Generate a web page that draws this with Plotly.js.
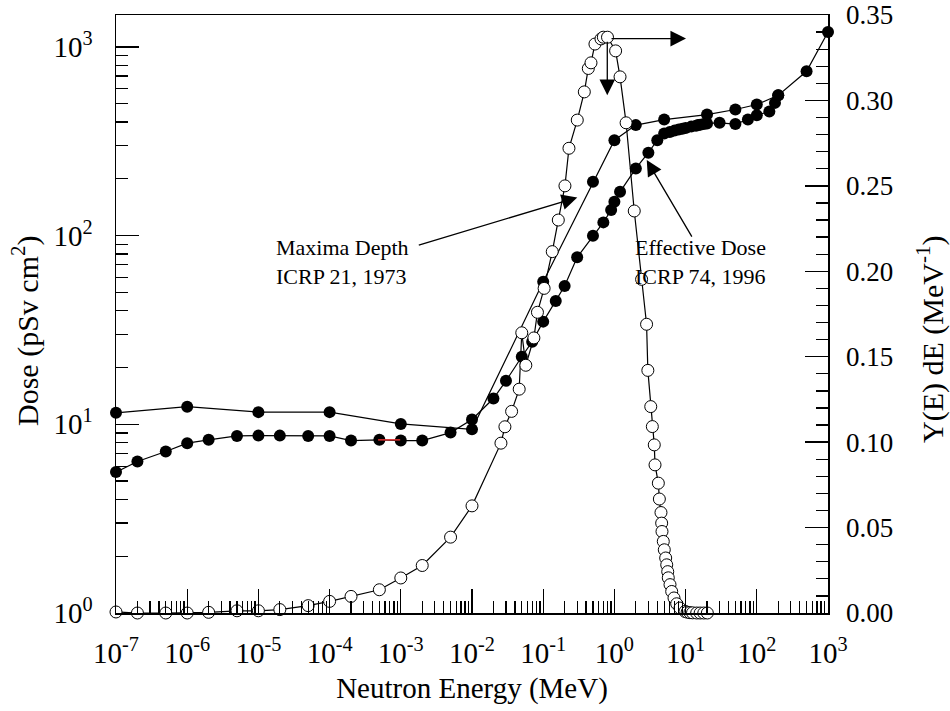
<!DOCTYPE html>
<html>
<head>
<meta charset="utf-8">
<script src="https://cdn.plot.ly/plotly-3.0.1.min.js"></script>
<style>html,body{margin:0;padding:0;background:#fff;}#chart{width:950px;height:711px;}</style>
</head>
<body>
<div id="chart"></div>
<script>
// ---- Maxima Depth, ICRP 21 (1973) : filled circles, left axis (pSv cm^2)
var maximaEnergy = [1e-7, 1e-6, 1e-5, 1e-4, 1e-3, 1e-2, 0.1, 0.5, 1.0, 2.0, 5.0, 20, 50, 100, 200];
var maximaDose   = [11.5, 12.4, 11.6, 11.6, 10.05, 9.4, 56.9, 193, 320, 385, 412, 438, 466, 495, 554];

// ---- Effective Dose, ICRP 74 (1996) : filled circles, left axis (pSv cm^2)
var effEnergy = [1e-7, 2e-7, 5e-7, 1e-6, 2e-6, 5e-6, 1e-5, 2e-5, 5e-5, 1e-4, 2e-4, 5e-4, 1e-3, 2e-3, 5e-3, 1e-2,
                 0.02, 0.03, 0.05, 0.07, 0.1, 0.15, 0.2, 0.3, 0.5, 0.7, 0.9, 1.0, 1.2, 2.0, 3.0, 4.0, 5.0, 6.0, 7.0, 8.0,
                 9.0, 10, 12, 14, 15, 16, 18, 20, 30, 50, 75, 100, 150, 180, 200, 500, 1000];
var effDose   = [5.58, 6.35, 7.17, 7.94, 8.27, 8.68, 8.71, 8.71, 8.68, 8.68, 8.2, 8.27, 8.2, 8.2, 9.04, 10.6,
                 13.7, 17.0, 22.8, 27.4, 35.0, 45.0, 54.0, 76.7, 99.8, 117.5, 136.5, 151, 170.6, 227, 275, 320, 348, 354, 360, 365,
                 368, 372, 378, 382, 385, 387, 390, 393, 396, 390, 412, 434, 455, 505, 554, 743, 1200];

// ---- Spectrum Y(E) dE : open circles, right axis (MeV^-1)
var specEnergy = [1e-7, 2e-7, 5e-7, 1e-6, 2e-6, 5e-6, 1e-5, 2e-5, 5e-5, 1e-4, 2e-4, 5e-4, 1e-3, 2e-3, 5e-3, 1e-2,
                  0.0255, 0.029, 0.036, 0.046, 0.050, 0.057, 0.074, 0.083, 0.103, 0.134, 0.163, 0.202, 0.23, 0.301,
                  0.378, 0.430, 0.469, 0.533, 0.648, 0.699, 0.80, 1.04, 1.2, 1.46, 1.9, 2.41, 2.83, 2.95,
                  3.24, 3.41, 3.63, 3.72, 4.14, 4.28, 4.51, 4.61, 4.66, 4.86, 5.02, 5.25, 5.43, 5.61, 5.71,
                  6.04, 6.38, 6.87, 7.50, 8.34, 9.81, 10.5, 11.5, 12.5, 14.3, 16, 18, 20.2];
var specYield  = [0.0006, 0.0, 0.0, 0.0, 0.0004, 0.0013, 0.0013, 0.002, 0.0043, 0.0068, 0.0097, 0.0136, 0.0205, 0.0278, 0.0444, 0.0627,
                  0.0994, 0.109, 0.118, 0.131, 0.164, 0.145, 0.161, 0.176, 0.190, 0.2115, 0.230, 0.250, 0.272, 0.2885,
                  0.305, 0.3187, 0.322, 0.333, 0.336, 0.337, 0.337, 0.329, 0.3138, 0.2869, 0.2353, 0.1953, 0.169, 0.142,
                  0.1208, 0.1091, 0.0984, 0.0867, 0.0760, 0.0667, 0.0588, 0.0526, 0.0477, 0.0419, 0.0370, 0.0322, 0.0282, 0.0242, 0.0206,
                  0.0166, 0.0126, 0.0088, 0.0054, 0.0029, 0.0009, 0.0005, 0.0002, 0.0001, 0.0, 0.0, 0.0, 0.0];

// small red stroke visible in the original figure
var redEnergy = [4.8e-4, 9.8e-4];
var redDose   = [8.27, 8.27];

// tick labels
var xTickVals  = [1e-7, 1e-6, 1e-5, 1e-4, 1e-3, 1e-2, 1e-1, 1e0, 1e1, 1e2, 1e3];
var xTickText  = ['10<sup>-7</sup>', '10<sup>-6</sup>', '10<sup>-5</sup>', '10<sup>-4</sup>', '10<sup>-3</sup>', '10<sup>-2</sup>',
                  '10<sup>-1</sup>', '10<sup>0</sup>', '10<sup>1</sup>', '10<sup>2</sup>', '10<sup>3</sup>'];
var yTickVals  = [1, 10, 100, 1000];
var yTickText  = ['10<sup>0</sup>', '10<sup>1</sup>', '10<sup>2</sup>', '10<sup>3</sup>'];
var y2TickVals = [0, 0.05, 0.10, 0.15, 0.20, 0.25, 0.30, 0.35];
var y2TickText = ['0.00', '0.05', '0.10', '0.15', '0.20', '0.25', '0.30', '0.35'];

// minor tick positions (2..9 in every decade)
function decadeMinors(lo, hi) {
  var out = [];
  for (var p = lo; p < hi; p++) for (var m = 2; m <= 9; m++) out.push(m * Math.pow(10, p));
  return out;
}
var xMinor = decadeMinors(-7, 3);
var yMinor = decadeMinors(0, 4);

var FONT = 'Liberation Serif';

var traces = [
  {x: maximaEnergy, y: maximaDose, type: 'scatter', mode: 'lines+markers', cliponaxis: false,
   line: {color: '#000', width: 1.2}, marker: {symbol: 'circle', size: 12, color: '#000'}},
  {x: effEnergy, y: effDose, type: 'scatter', mode: 'lines+markers', cliponaxis: false,
   line: {color: '#000', width: 1.2}, marker: {symbol: 'circle', size: 12, color: '#000'}},
  {x: redEnergy, y: redDose, type: 'scatter', mode: 'lines', line: {color: '#e03030', width: 1.5}},
  {x: specEnergy, y: specYield, yaxis: 'y2', type: 'scatter', mode: 'lines+markers', cliponaxis: false,
   line: {color: '#000', width: 1.2}, marker: {symbol: 'circle', size: 12, color: '#fff', line: {color: '#000', width: 1}}}
];

var layout = {
  width: 950, height: 711,
  margin: {l: 116, r: 122, t: 15, b: 98},
  paper_bgcolor: '#fff', plot_bgcolor: '#fff',
  showlegend: false,
  font: {family: FONT, color: '#000', size: 26},
  xaxis: {
    type: 'log', range: [-7, 3], tickmode: 'array', tickvals: xTickVals, ticktext: xTickText,
    showline: true, mirror: true, linecolor: '#000', linewidth: 1.5,
    ticks: 'inside', ticklen: 24, tickwidth: 1.3, tickcolor: '#000',
    minor: {ticks: 'inside', ticklen: 12, tickwidth: 1.3, tickcolor: '#000', tickmode: 'array', tickvals: xMinor, showgrid: false},
    showgrid: false, zeroline: false,
    tickfont: {family: FONT, size: 29, color: '#000'},
    ticklabelstandoff: 14,
    title: {text: 'Neutron Energy (MeV)', font: {family: FONT, size: 29, color: '#000'}, standoff: 9},
    automargin: false
  },
  yaxis: {
    type: 'log', range: [0, 3.169], tickmode: 'array', tickvals: yTickVals, ticktext: yTickText,
    showline: true, linecolor: '#000', linewidth: 1.5,
    ticks: 'inside', ticklen: 23, tickwidth: 1.3, tickcolor: '#000',
    minor: {ticks: 'inside', ticklen: 12, tickwidth: 1.3, tickcolor: '#000', tickmode: 'array', tickvals: yMinor, showgrid: false},
    showgrid: false, zeroline: false,
    tickfont: {family: FONT, size: 29, color: '#000'},
    ticklabelstandoff: 16,
    automargin: false
  },
  yaxis2: {
    overlaying: 'y', side: 'right', range: [0, 0.35], tickmode: 'array', tickvals: y2TickVals, ticktext: y2TickText,
    showline: true, linecolor: '#000', linewidth: 1.5,
    ticks: 'inside', ticklen: 23, tickwidth: 1.3, tickcolor: '#000',
    minor: {ticks: 'inside', ticklen: 12, tickwidth: 1.3, tickcolor: '#000', dtick: 0.01, tick0: 0, showgrid: false},
    showgrid: false, zeroline: false,
    tickfont: {family: FONT, size: 27, color: '#000'},
    ticklabelstandoff: 11,
    automargin: false
  },
  annotations: [
    // axis titles of the two y axes (placed like the original)
    {xref: 'paper', yref: 'paper', x: -0.1264, y: 0.4716, xanchor: 'center', yanchor: 'middle', textangle: -90, showarrow: false,
     text: 'Dose (pSv cm<sup>2</sup>)', font: {family: FONT, size: 30, color: '#000'}},
    {xref: 'paper', yref: 'paper', x: 1.1447, y: 0.4566, xanchor: 'center', yanchor: 'middle', textangle: -90, showarrow: false,
     text: 'Y(E) dE (MeV<sup>-1</sup>)', font: {family: FONT, size: 30, color: '#000'}},
    // curve labels
    {xref: 'x', yref: 'y', x: -4.781, y: 1.862, xanchor: 'left', yanchor: 'middle', align: 'left', showarrow: false,
     text: 'Maxima Depth<br>ICRP 21, 1973', font: {family: FONT, size: 22, color: '#000'}},
    {xref: 'x', yref: 'y', x: 0.265, y: 1.862, xanchor: 'left', yanchor: 'middle', align: 'left', showarrow: false,
     text: 'Effective Dose<br>ICRP 74, 1996', font: {family: FONT, size: 22, color: '#000'}},
    // arrows
    {xref: 'x', yref: 'y', x: -0.521, y: 2.202, text: '', showarrow: true, ax: -160, ay: 48,
     arrowhead: 2, arrowsize: 2.4, arrowwidth: 1.3, arrowcolor: '#000', standoff: 0},
    {xref: 'x', yref: 'y', x: 0.454, y: 2.400, text: '', showarrow: true, ax: 46, ay: 78,
     arrowhead: 2, arrowsize: 2.4, arrowwidth: 1.3, arrowcolor: '#000', standoff: 0},
    {xref: 'x', yref: 'y', x: 1.006, y: 3.044, text: '', showarrow: true, ax: -76, ay: 0,
     arrowhead: 2, arrowsize: 2.4, arrowwidth: 1.3, arrowcolor: '#000', standoff: 0},
    {xref: 'x', yref: 'y', x: -0.100, y: 2.744, text: '', showarrow: true, ax: 0, ay: -55,
     arrowhead: 2, arrowsize: 2.4, arrowwidth: 1.3, arrowcolor: '#000', standoff: 0}
  ]
};

Plotly.newPlot('chart', traces, layout, {staticPlot: true, displayModeBar: false});
</script>
</body>
</html>
